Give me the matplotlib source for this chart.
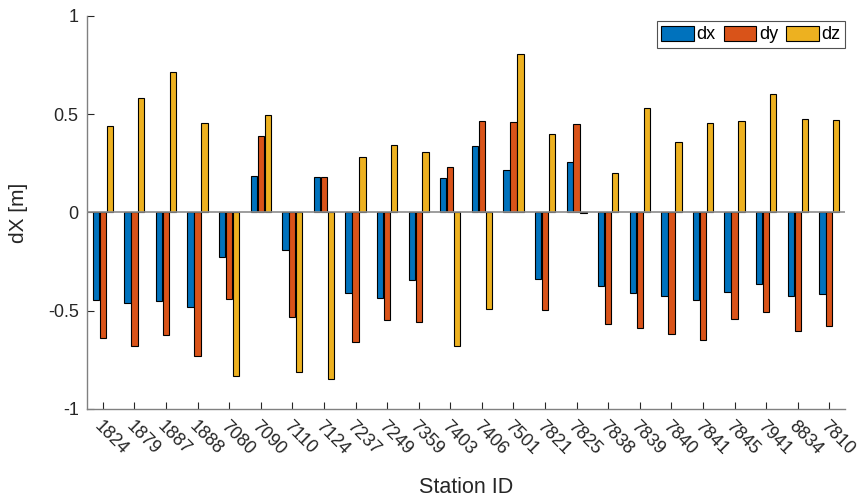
import numpy as np
import matplotlib
matplotlib.use('Agg')
from matplotlib import pyplot as plt
from matplotlib import transforms

# station offsets in metres
stations = ['1824', '1879', '1887', '1888', '7080', '7090', '7110', '7124',
            '7237', '7249', '7359', '7403', '7406', '7501', '7821', '7825',
            '7838', '7839', '7840', '7841', '7845', '7941', '8834', '7810']

dx = [-0.444, -0.462, -0.452, -0.481, -0.225, 0.185, -0.190, 0.183,
      -0.412, -0.437, -0.342, 0.174, 0.337, 0.215, -0.337, 0.256,
      -0.374, -0.412, -0.425, -0.447, -0.406, -0.364, -0.427, -0.413]
dy = [-0.639, -0.678, -0.622, -0.728, -0.440, 0.388, -0.534, 0.180,
      -0.657, -0.549, -0.559, 0.230, 0.467, 0.459, -0.496, 0.451,
      -0.567, -0.586, -0.620, -0.647, -0.542, -0.506, -0.605, -0.578]
dz = [0.442, 0.584, 0.713, 0.456, -0.833, 0.498, -0.811, -0.847,
      0.281, 0.344, 0.308, -0.679, -0.491, 0.806, 0.400, -0.004,
      0.202, 0.530, 0.359, 0.454, 0.466, 0.601, 0.474, 0.469]

colors = ['#0072BD', '#D95319', '#EDB120']
names = ['dx', 'dy', 'dz']

plt.rcParams['font.family'] = ['Liberation Sans', 'DejaVu Sans']

fig = plt.figure(figsize=(8.58, 4.99), dpi=100)
ax = fig.add_axes([0.1014, 0.1804, 0.8836, 0.7876])

x = np.arange(1, len(stations) + 1)
w = 0.2
step = 0.22
for k, vals in enumerate([dx, dy, dz]):
    ax.bar(x + (k - 1) * step, vals, width=w, color=colors[k],
           edgecolor='black', linewidth=0.8, label=names[k], zorder=2)

ax.axhline(0, color='#8c8c8c', linewidth=1.2, zorder=3)

ax.set_xlim(0.5, 24.5)
ax.set_ylim(-1, 1)
ax.set_yticks([-1, -0.5, 0, 0.5, 1])
ax.set_yticklabels(['-1', '-0.5', '0', '0.5', '1'])
ax.set_xticks(x)
ax.set_xticklabels(stations, rotation=-45, ha='left', va='top',
                   rotation_mode='anchor', fontsize=13.5)
shift = transforms.ScaledTranslation(-0.07, -0.02, fig.dpi_scale_trans)
for lab in ax.get_xticklabels():
    lab.set_transform(lab.get_transform() + shift)

for side in ['top', 'right']:
    ax.spines[side].set_visible(False)
for side in ['left', 'bottom']:
    ax.spines[side].set_color('#808080')
    ax.spines[side].set_linewidth(1.0)
ax.tick_params(direction='in', length=5, width=0.8, color='#262626',
               labelsize=13, labelcolor='#262626', pad=6)

ax.set_xlabel('Station ID', fontsize=15.5, color='#262626', labelpad=14)
ax.set_ylabel('dX [m]', fontsize=15, color='#262626', labelpad=14)

leg = ax.legend(loc='upper right', ncol=3, fontsize=13, frameon=True,
                fancybox=False, edgecolor='#262626', borderaxespad=0,
                handlelength=1.8, handleheight=0.9, handletextpad=0.15,
                columnspacing=0.45, borderpad=0.25,
                bbox_to_anchor=(1.0, 0.987))
leg.get_frame().set_linewidth(0.8)

fig.savefig('out.png', dpi=100)
